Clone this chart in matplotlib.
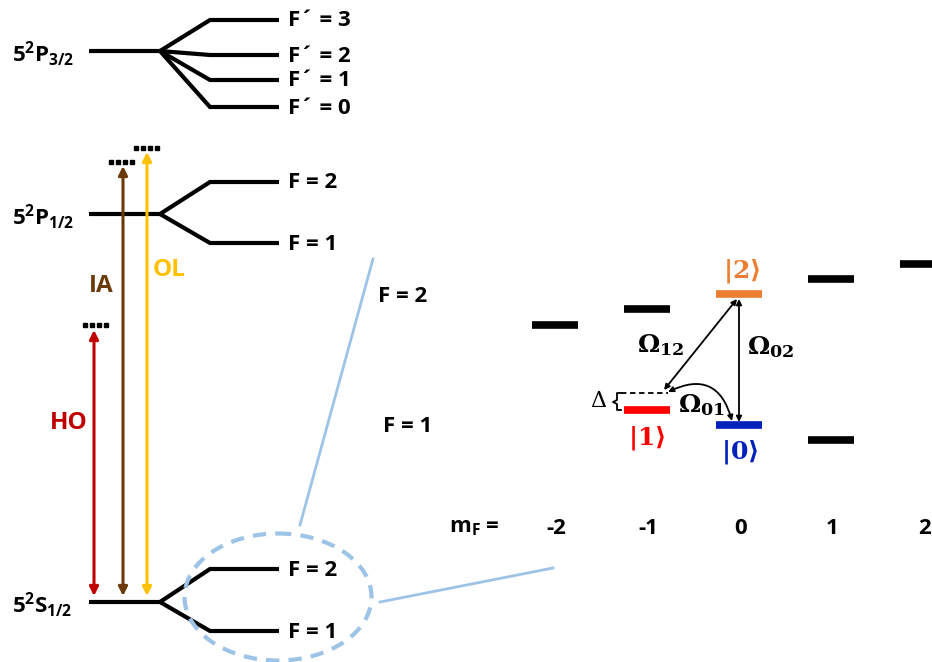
import numpy as np
import matplotlib.pyplot as plt
from matplotlib.patches import Ellipse

plt.rcParams['mathtext.fontset'] = 'custom'
plt.rcParams['mathtext.rm'] = 'Open Sans:bold'
plt.rcParams['mathtext.sf'] = 'DejaVu Serif:bold'
plt.rcParams['font.family'] = ['Open Sans', 'DejaVu Sans']
plt.rcParams['font.weight'] = 'bold'

# left diagram: fine structure terms and their hyperfine levels (y in px)
terms = [r'$\mathrm{5^2P_{3/2}}$', r'$\mathrm{5^2P_{1/2}}$', r'$\mathrm{5^2S_{1/2}}$']
term_y = [51, 214, 602]
hf_y = [[20, 55, 80, 107], [182, 243], [569, 631]]
hf_labels = [["F\u00b4 = 3", "F\u00b4 = 2", "F\u00b4 = 1", "F\u00b4 = 0"],
             ["F = 2", "F = 1"], ["F = 2", "F = 1"]]

# lasers: name, colour, x, top
lasers = ["HO", "IA", "OL"]
laser_colors = ["#C00000", "#6B3A0A", "#FFC000"]
laser_x = [94, 123, 147]
laser_top = [330, 166, 152]
laser_label_xy = [(50, 423), (89, 286), (153, 270)]

# right diagram: Zeeman sublevels
mf = [-2, -1, 0, 1, 2]
f2_y = [325, 309, 294, 279, 264]
f1_mf = [-1, 0, 1]
f1_y = [410, 425, 440]

fig = plt.figure(figsize=(9.32, 6.62), dpi=100)
ax = fig.add_axes([0, 0, 1, 1])
ax.set_xlim(0, 932)
ax.set_ylim(662, 0)
ax.axis('off')

lw = 3
for name, ty, levels, labels in zip(terms, term_y, hf_y, hf_labels):
    ax.plot([89, 160], [ty, ty], color='black', lw=lw, solid_capstyle='butt')
    for ly, lab in zip(levels, labels):
        ax.plot([160, 210, 279], [ty, ly, ly], color='black', lw=lw,
                solid_joinstyle='miter', solid_capstyle='butt')
        ax.text(288, ly + 1, lab, fontsize=16, va='center', ha='left')
    ax.text(12, ty + 3, name, fontsize=16, va='center', ha='left')

# laser arrows
for name, c, x, top, (lx, ly) in zip(lasers, laser_colors, laser_x, laser_top, laser_label_xy):
    ax.annotate('', xy=(x, 596), xytext=(x, top),
                arrowprops=dict(arrowstyle='<|-|>', color=c, lw=2.2, mutation_scale=13,
                                shrinkA=0, shrinkB=0))
    ax.text(lx, ly, name, color=c, fontsize=17.5, va='center', ha='left')

# virtual levels
for x0, y0 in [(83, 325), (109, 162), (134, 148)]:
    ax.plot(x0 + np.array([2, 9, 16, 23]), [y0] * 4, ls='none', marker='s',
            ms=3.2, color='black')

# zoom-in ellipse and guide lines
ax.add_patch(Ellipse((278, 597), 187, 127, fill=False, ec='#9DC3E6', lw=3,
                     ls=(0, (3.2, 2.2)), zorder=5))
ax.plot([300, 373], [525, 259], color='#9DC3E6', lw=2)
ax.plot([380, 553], [602, 568], color='#9DC3E6', lw=2)

# right diagram
def xc(m):
    return 738.5 + 92 * m

for m, y in zip(mf, f2_y):
    c = '#ED7D31' if m == 0 else 'black'
    ax.plot([xc(m) - 23, xc(m) + 23], [y, y], color=c, lw=5.5, solid_capstyle='butt')
for m, y in zip(f1_mf, f1_y):
    c = {-1: '#FF0000', 0: '#0022BB'}.get(m, 'black')
    ax.plot([xc(m) - 23, xc(m) + 23], [y, y], color=c, lw=5.5, solid_capstyle='butt')

ax.text(378, 297, "F = 2", fontsize=16, va='center')
ax.text(383, 427, "F = 1", fontsize=16, va='center')
ax.text(449, 528, r'$\mathrm{m_F}$ =', fontsize=16, va='center')
for m in mf:
    ax.text(xc(m) + 2, 528, f"{m}", fontsize=16, va='center', ha='center')

# state labels
ax.text(742, 271, r'$\mathsf{|2\rangle}$', color='#ED7D31', fontsize=18, ha='center', va='center')
ax.text(647, 438, r'$\mathsf{|1\rangle}$', color='#FF0000', fontsize=18, ha='center', va='center')
ax.text(740, 452, r'$\mathsf{|0\rangle}$', color='#0022BB', fontsize=18, ha='center', va='center')

# couplings
arr = dict(arrowstyle='<|-|>', color='black', lw=1.3, mutation_scale=8, shrinkA=0, shrinkB=0)
ax.annotate('', xy=(664, 390), xytext=(737, 299), arrowprops=arr)
ax.annotate('', xy=(739, 422), xytext=(739, 299), arrowprops=arr)
ax.annotate('', xy=(668, 392), xytext=(732, 421),
            arrowprops=dict(arr, connectionstyle='arc3,rad=0.6'))
ax.text(661, 345, r'$\mathsf{\Omega_{12}}$', fontsize=18, ha='center', va='center')
ax.text(771, 347, r'$\mathsf{\Omega_{02}}$', fontsize=18, ha='center', va='center')
ax.text(702, 405, r'$\mathsf{\Omega_{01}}$', fontsize=18, ha='center', va='center')

# detuning
ax.plot([621, 668], [393, 393], color='black', lw=1.3, ls=(0, (3, 2)))
ax.plot([621, 617, 617, 613, 617, 617, 621], [393, 393, 400, 402, 404, 410, 410],
        color='black', lw=1.3)
ax.text(598, 401, "\u0394", fontsize=16, family=['DejaVu Serif'], fontweight='normal',
        ha='center', va='center')

fig.savefig('out.png', dpi=100)
